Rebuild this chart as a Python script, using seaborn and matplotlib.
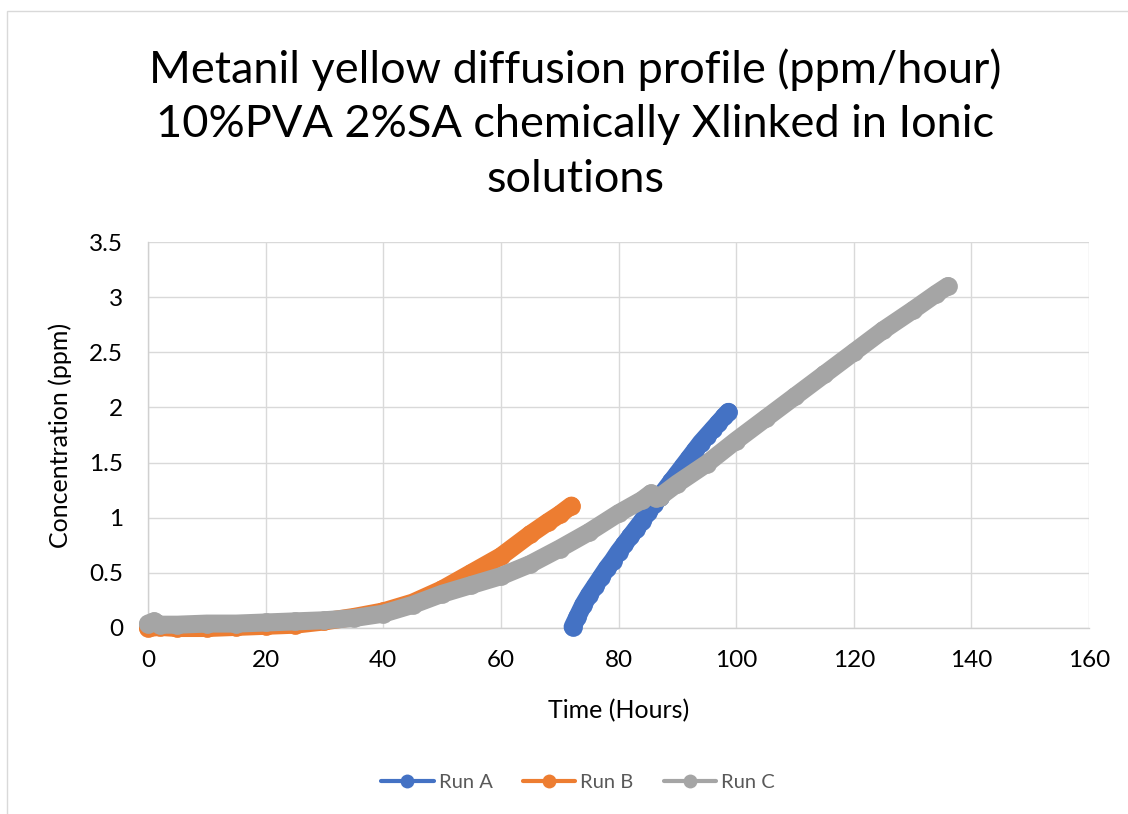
import matplotlib
matplotlib.use("Agg")
import matplotlib.pyplot as plt
from matplotlib.lines import Line2D
from matplotlib.patches import Rectangle
import seaborn as sns
import pandas as pd

# Run A: release measured after transfer (hours, ppm)
run_a_time = [72.2, 73.0, 74.0, 75.0, 76.0, 77.0, 78.0, 79.0, 80.0, 81.0, 82.0, 83.0,
              84.0, 85.0, 86.0, 87.0, 88.0, 89.0, 90.0, 91.0, 92.0, 93.0, 94.0, 95.0,
              96.0, 97.0, 98.0, 98.7]
run_a_conc = [0.01, 0.10, 0.21, 0.30, 0.38, 0.46, 0.54, 0.61, 0.69, 0.76, 0.83, 0.90,
              0.97, 1.05, 1.12, 1.19, 1.26, 1.33, 1.40, 1.47, 1.54, 1.61, 1.68, 1.74,
              1.80, 1.86, 1.92, 1.96]

# Run B
run_b_time = [0, 2, 5, 10, 15, 20, 25, 30, 35, 40, 45, 50, 55, 60, 65, 68, 70, 72]
run_b_conc = [0.00, 0.01, 0.00, 0.00, 0.01, 0.02, 0.03, 0.06, 0.10, 0.15, 0.23, 0.35,
              0.50, 0.65, 0.85, 0.96, 1.03, 1.11]

# Run C
run_c_time = [0, 1, 2, 5, 10, 15, 20, 25, 30, 35, 40, 45, 50, 55, 60, 65, 70, 75, 80,
              84, 85.5, 86.3, 87, 90, 95, 100, 105, 110, 115, 120, 125, 130, 134, 136]
run_c_conc = [0.04, 0.06, 0.03, 0.03, 0.04, 0.04, 0.05, 0.06, 0.07, 0.09, 0.13, 0.21,
              0.31, 0.39, 0.47, 0.58, 0.72, 0.87, 1.04, 1.16, 1.22, 1.18, 1.19, 1.31,
              1.49, 1.70, 1.90, 2.10, 2.30, 2.50, 2.70, 2.88, 3.03, 3.10]

series_names = ["Run A", "Run B", "Run C"]
series_colors = ["#4472C4", "#ED7D31", "#A5A5A5"]

x_ticks = [0, 20, 40, 60, 80, 100, 120, 140, 160]
y_ticks = [0, 0.5, 1, 1.5, 2, 2.5, 3, 3.5]
y_tick_labels = ["0", "0.5", "1", "1.5", "2", "2.5", "3", "3.5"]

title_text = ("Metanil yellow diffusion profile (ppm/hour)\n"
              "10%PVA 2%SA chemically Xlinked in Ionic\nsolutions")

sns.set_theme(style="white")
plt.rcParams["font.family"] = ["Lato", "DejaVu Sans"]

fig = plt.figure(figsize=(11.28, 8.14), dpi=100)
fig.patch.set_facecolor("white")
fig.patches.append(Rectangle((7 / 1128, -0.05), 1.2, 1 - 11 / 814 + 0.05,
                             transform=fig.transFigure, fill=False,
                             edgecolor="#D9D9D9", linewidth=1.0))

ax = fig.add_axes([148 / 1128, 1 - 628 / 814, (1089 - 148) / 1128, (628 - 242) / 814])

frames = [
    pd.DataFrame({"time": run_a_time, "conc": run_a_conc}),
    pd.DataFrame({"time": run_b_time, "conc": run_b_conc}),
    pd.DataFrame({"time": run_c_time, "conc": run_c_conc}),
]
for df, name, col in zip(frames, series_names, series_colors):
    sns.lineplot(data=df, x="time", y="conc", ax=ax, color=col, sort=False,
                 estimator=None, linewidth=13, marker="o", markersize=13.5,
                 markeredgewidth=0, solid_capstyle="round", solid_joinstyle="round",
                 clip_on=False, zorder=3)

ax.set_xlim(0, 160)
ax.set_ylim(0, 3.5)
ax.set_xticks(x_ticks)
ax.set_yticks(y_ticks)
ax.set_yticklabels(y_tick_labels)
ax.grid(True, color="#D9D9D9", linewidth=1.0)
ax.set_axisbelow(True)
for side in ["top", "right"]:
    ax.spines[side].set_visible(False)
for side in ["left", "bottom"]:
    ax.spines[side].set_color("#D0D0D0")
    ax.spines[side].set_linewidth(1.0)
ax.tick_params(axis="both", length=0, labelsize=17.5, colors="black")
ax.tick_params(axis="x", pad=16)
ax.tick_params(axis="y", pad=18)

ax.set_xlabel("Time (Hours)", fontsize=18, color="black", labelpad=20)
ax.set_ylabel("Concentration (ppm)", fontsize=18, color="black", labelpad=12)
if ax.get_legend() is not None:
    ax.get_legend().remove()

fig.text(575 / 1128, 1 - 124 / 814, title_text, ha="center", va="center",
         fontsize=32.5, color="black", linespacing=1.4)

handles = [Line2D([0], [0], color=c, linewidth=3, marker="o", markersize=10,
                  markeredgewidth=0) for c in series_colors]
fig.legend(handles, series_names, loc="center", bbox_to_anchor=(578 / 1128, 1 - 782 / 814),
           ncol=3, frameon=False, fontsize=14.5, handlelength=2.6, columnspacing=1.5,
           handletextpad=0.25, labelcolor="#595959")

fig.savefig("out.png", dpi=100, facecolor="white")
